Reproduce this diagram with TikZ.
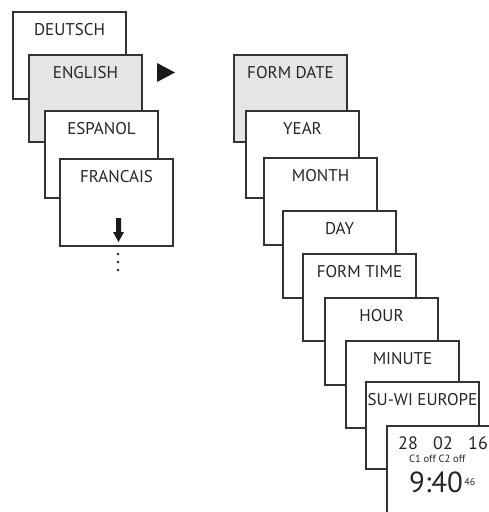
\documentclass[tikz,border=0pt]{standalone}
\usepackage{fontspec}
\setmainfont{PT Sans}
\begin{document}
\begin{tikzpicture}[x=1pt,y=-1pt,
  menubox/.style={draw=black!80, line width=1.1pt, fill=white, minimum width=113pt, minimum height=87pt, anchor=north west, inner sep=0pt, outer sep=0pt},
  graybox/.style={menubox, fill=black!10},
  lbl/.style={font=\fontsize{17}{17}\selectfont, text=black!85, anchor=center, inner sep=0pt},
  darkfill/.style={fill=black!90},
  clocktxt/.style={text=black!85, inner sep=0pt, anchor=base west},
]
\useasboundingbox (0,0) rectangle (489,512);
\begin{scope}
\clip (0,0) rectangle (489,512);
% left column
\node[menubox] (deutsch) at (13,12) {};
\node[lbl] (tdeutsch) at ([yshift=-17.5pt]deutsch.north) {DEUTSCH};
\node[graybox] (english) at (29,55) {};
\node[lbl] (tenglish) at ([yshift=-17.5pt]english.north) {ENGLISH};
\node[menubox] (espanol) at (45,111) {};
\node[lbl] (tespanol) at ([yshift=-17.5pt]espanol.north) {ESPANOL};
\node[menubox] (francais) at (60,159) {};
\node[lbl] (tfrancais) at ([yshift=-17.5pt]francais.north) {FRANCAIS};
% down arrow
\fill[darkfill] (116,218) -- (121,218) -- (121,232) -- (124,232) -- (118.5,242) -- (113,232) -- (116,232) -- cycle;
\foreach \yy in {254,262,270} \fill[darkfill] (118,\yy) circle (1.3pt);
% right-pointing triangle
\fill[darkfill] (157,63) -- (175,72.5) -- (157,82) -- cycle;
% right column
\node[graybox] (formdate) at (234,55) {};
\node[lbl] (tformdate) at ([yshift=-17.5pt]formdate.north) {FORM DATE};
\node[menubox] (year) at (246,111) {};
\node[lbl] (tyear) at ([yshift=-17.5pt]year.north) {YEAR};
\node[menubox] (month) at (264,158) {};
\node[lbl] (tmonth) at ([yshift=-17.5pt]month.north) {MONTH};
\node[menubox] (day) at (283,211) {};
\node[lbl] (tday) at ([yshift=-17.5pt]day.north) {DAY};
\node[menubox] (formtime) at (303,254) {};
\node[lbl] (tformtime) at ([yshift=-17.5pt]formtime.north) {FORM TIME};
\node[menubox] (hour) at (325,298) {};
\node[lbl] (thour) at ([yshift=-17.5pt]hour.north) {HOUR};
\node[menubox] (minute) at (346,341) {};
\node[lbl] (tminute) at ([yshift=-17.5pt]minute.north) {MINUTE};
\node[menubox] (suwi) at (366,382) {};
\node[lbl] (tsuwi) at ([yshift=-17.5pt]suwi.north) {SU-WI EUROPE};
\node[menubox] (clock) at (387,426) {};
\node[clocktxt, font=\fontsize{18}{18}\selectfont] (d1) at (398,449) {28};
\node[clocktxt, font=\fontsize{18}{18}\selectfont] (d2) at (433,449) {02};
\node[clocktxt, font=\fontsize{18}{18}\selectfont] (d3) at (468,449) {16};
\node[clocktxt, font=\fontsize{10.5}{10.5}\selectfont] (cst) at (409,462) {C1 off C2 off};
\node[clocktxt, font=\fontsize{29}{29}\selectfont] (tm) at (409,492) {9:40};
\node[clocktxt, font=\fontsize{10}{10}\selectfont] (sec) at ([xshift=1pt,yshift=6.5pt]tm.base east) {46};
\end{scope}
\end{tikzpicture}
\end{document}
